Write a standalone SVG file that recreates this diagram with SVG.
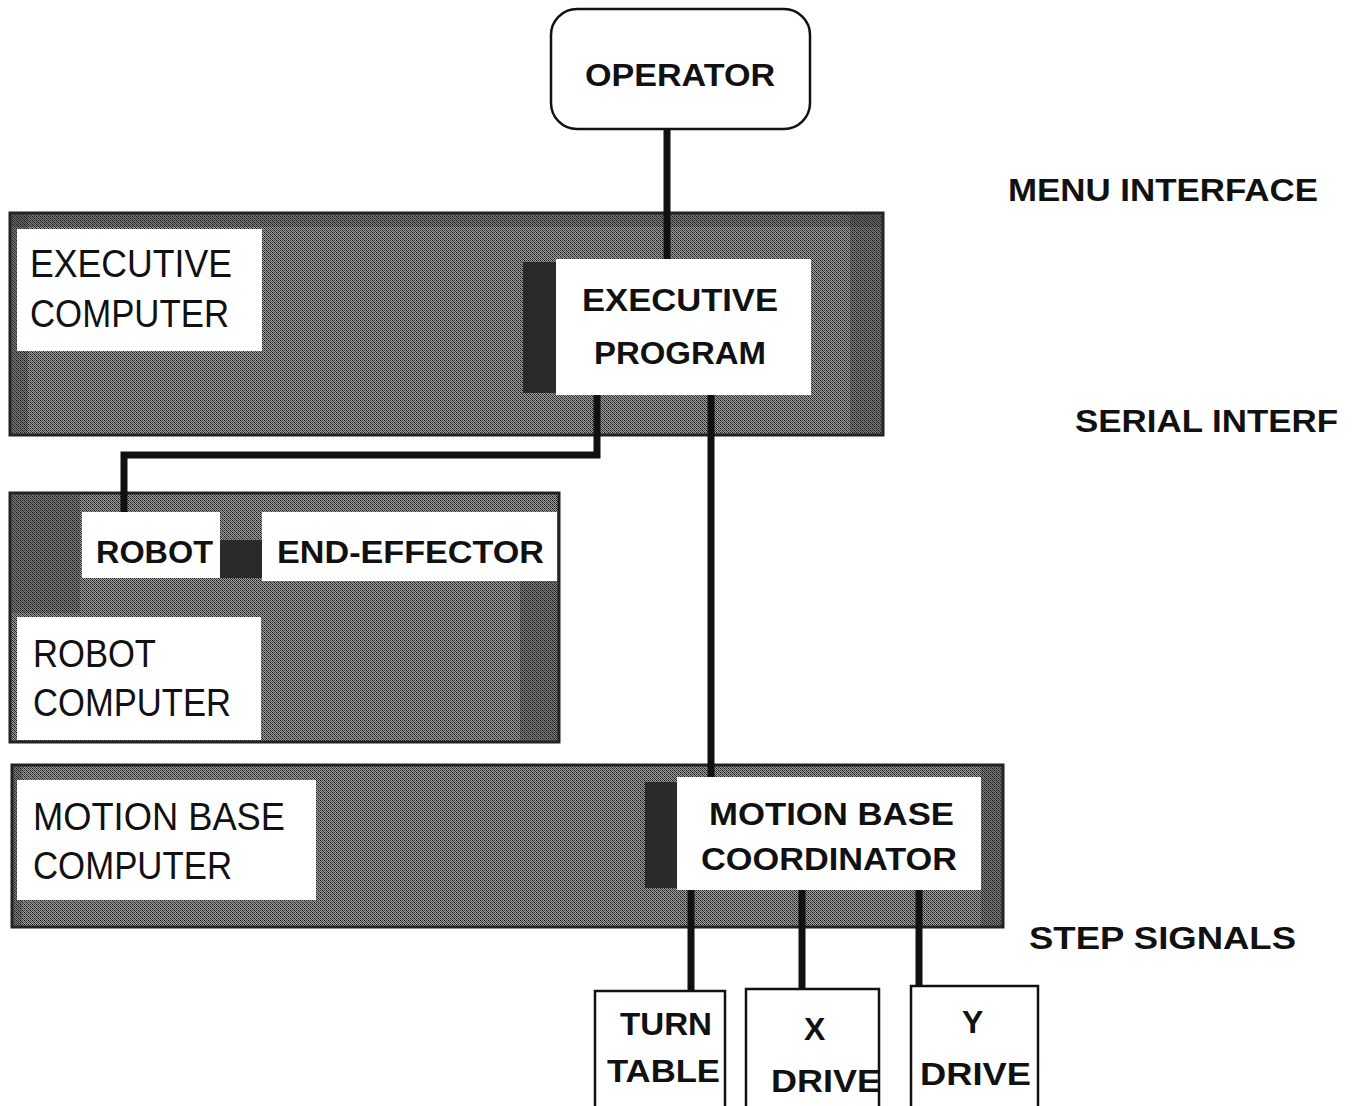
<svg xmlns="http://www.w3.org/2000/svg" width="1356" height="1106" viewBox="0 0 1356 1106">
<style>
.bold{font-family:"Liberation Sans",Arial,sans-serif;font-weight:bold;font-size:32px;fill:#111}
.reg{font-family:"Liberation Sans",Arial,sans-serif;font-size:38px;fill:#111}
.box{fill:#fff;stroke:#111;stroke-width:2.5}
.wbox{fill:#fff;stroke:none}
.panel{fill:url(#halftone);stroke:#222;stroke-width:3}
.shade{fill:#2a2a2a;opacity:0.3}
.wire{fill:none;stroke:#111;stroke-width:7}
</style>
<defs>
<pattern id="halftone" width="4" height="4" patternUnits="userSpaceOnUse">
<rect width="4" height="4" fill="#999"/>
<rect x="0" y="0" width="1" height="1" fill="#111"/>
<rect x="2" y="2" width="1" height="1" fill="#111"/>
<rect x="2" y="0" width="1" height="1" fill="#444"/>
<rect x="0" y="2" width="1" height="1" fill="#444"/>
<rect x="1" y="1" width="1" height="1" fill="#333"/>
<rect x="3" y="3" width="1" height="1" fill="#333"/>
<rect x="1" y="3" width="1" height="1" fill="#666"/>
<rect x="3" y="1" width="1" height="1" fill="#666"/>
</pattern>
</defs>
<rect width="1356" height="1106" fill="#fff"/>

<g id="panel-executive">
<rect class="panel" x="10" y="213" width="873" height="222"/>
<rect class="shade" x="10" y="213" width="18" height="222"/>
<rect class="shade" x="850" y="213" width="33" height="222"/>
<rect class="shade" x="10" y="213" width="873" height="14"/>
<rect x="523" y="262" width="34" height="131" fill="#2a2a2a"/>
</g>
<g id="executive-computer">
<rect class="wbox" x="17" y="229" width="245" height="122"/>
<text class="reg" x="30" y="277" textLength="202" lengthAdjust="spacingAndGlyphs">EXECUTIVE</text>
<text class="reg" x="30" y="327" textLength="199" lengthAdjust="spacingAndGlyphs">COMPUTER</text>
</g>

<g id="panel-robot">
<rect class="panel" x="10" y="493" width="549" height="249"/>
<rect class="shade" x="10" y="493" width="70" height="120"/>
<rect class="shade" x="520" y="580" width="39" height="162"/>
<rect x="220" y="540" width="42" height="38" fill="#2a2a2a"/>
</g>
<g id="robot-computer">
<rect class="wbox" x="17" y="617" width="244" height="123"/>
<text class="reg" x="33" y="667" textLength="123" lengthAdjust="spacingAndGlyphs">ROBOT</text>
<text class="reg" x="33" y="716" textLength="198" lengthAdjust="spacingAndGlyphs">COMPUTER</text>
</g>

<g id="panel-motion">
<rect class="panel" x="12" y="765" width="991" height="162"/>
<rect class="shade" x="12" y="765" width="10" height="162"/>
<rect class="shade" x="981" y="765" width="22" height="162"/>
<rect x="645" y="782" width="33" height="106" fill="#2a2a2a"/>
</g>
<g id="motion-base-computer">
<rect class="wbox" x="17" y="780" width="299" height="120"/>
<text class="reg" x="33" y="830" textLength="252" lengthAdjust="spacingAndGlyphs">MOTION BASE</text>
<text class="reg" x="33" y="879" textLength="199" lengthAdjust="spacingAndGlyphs">COMPUTER</text>
</g>

<g id="connectors">
<line class="wire" x1="667" y1="129" x2="667" y2="259"/>
<polyline class="wire" points="597,395 597,455 124,455 124,513"/>
<line class="wire" x1="711" y1="395" x2="711" y2="777"/>
<line class="wire" x1="691" y1="890" x2="691" y2="991"/>
<line class="wire" x1="802" y1="890" x2="802" y2="989"/>
<line class="wire" x1="919" y1="890" x2="919" y2="986"/>
</g>

<g id="operator">
<rect class="box" x="551" y="9" width="259" height="120" rx="26"/>
<text class="bold" x="585" y="86" textLength="190" lengthAdjust="spacingAndGlyphs">OPERATOR</text>
</g>

<g id="executive-program">
<rect class="wbox" x="556" y="259" width="255" height="136"/>
<text class="bold" x="582" y="311" textLength="196" lengthAdjust="spacingAndGlyphs">EXECUTIVE</text>
<text class="bold" x="594" y="364" textLength="172" lengthAdjust="spacingAndGlyphs">PROGRAM</text>
</g>

<g id="robot">
<rect class="wbox" x="82" y="512" width="138" height="66"/>
<text class="bold" x="96" y="563" textLength="117" lengthAdjust="spacingAndGlyphs">ROBOT</text>
</g>

<g id="end-effector">
<rect class="wbox" x="262" y="512" width="295" height="69"/>
<text class="bold" x="277" y="563" textLength="267" lengthAdjust="spacingAndGlyphs">END-EFFECTOR</text>
</g>

<g id="motion-base-coordinator">
<rect class="wbox" x="677" y="777" width="304" height="113"/>
<text class="bold" x="709" y="825" textLength="245" lengthAdjust="spacingAndGlyphs">MOTION BASE</text>
<text class="bold" x="701" y="870" textLength="256" lengthAdjust="spacingAndGlyphs">COORDINATOR</text>
</g>

<g id="turn-table">
<rect class="box" x="595" y="991" width="130" height="125"/>
<text class="bold" x="620" y="1035" textLength="92" lengthAdjust="spacingAndGlyphs">TURN</text>
<text class="bold" x="607" y="1082" textLength="113" lengthAdjust="spacingAndGlyphs">TABLE</text>
</g>

<g id="x-drive">
<rect class="box" x="746" y="989" width="133" height="127"/>
<text class="bold" x="804" y="1040">X</text>
<text class="bold" x="771" y="1092" textLength="110" lengthAdjust="spacingAndGlyphs">DRIVE</text>
</g>

<g id="y-drive">
<rect class="box" x="911" y="986" width="127" height="130"/>
<text class="bold" x="962" y="1033">Y</text>
<text class="bold" x="920" y="1085" textLength="111" lengthAdjust="spacingAndGlyphs">DRIVE</text>
</g>

<g id="labels">
<text class="bold" x="1008" y="201" textLength="310" lengthAdjust="spacingAndGlyphs">MENU  INTERFACE</text>
<text class="bold" x="1075" y="432" textLength="263" lengthAdjust="spacingAndGlyphs">SERIAL  INTERF</text>
<text class="bold" x="1029" y="949" textLength="267" lengthAdjust="spacingAndGlyphs">STEP  SIGNALS</text>
</g>
</svg>
